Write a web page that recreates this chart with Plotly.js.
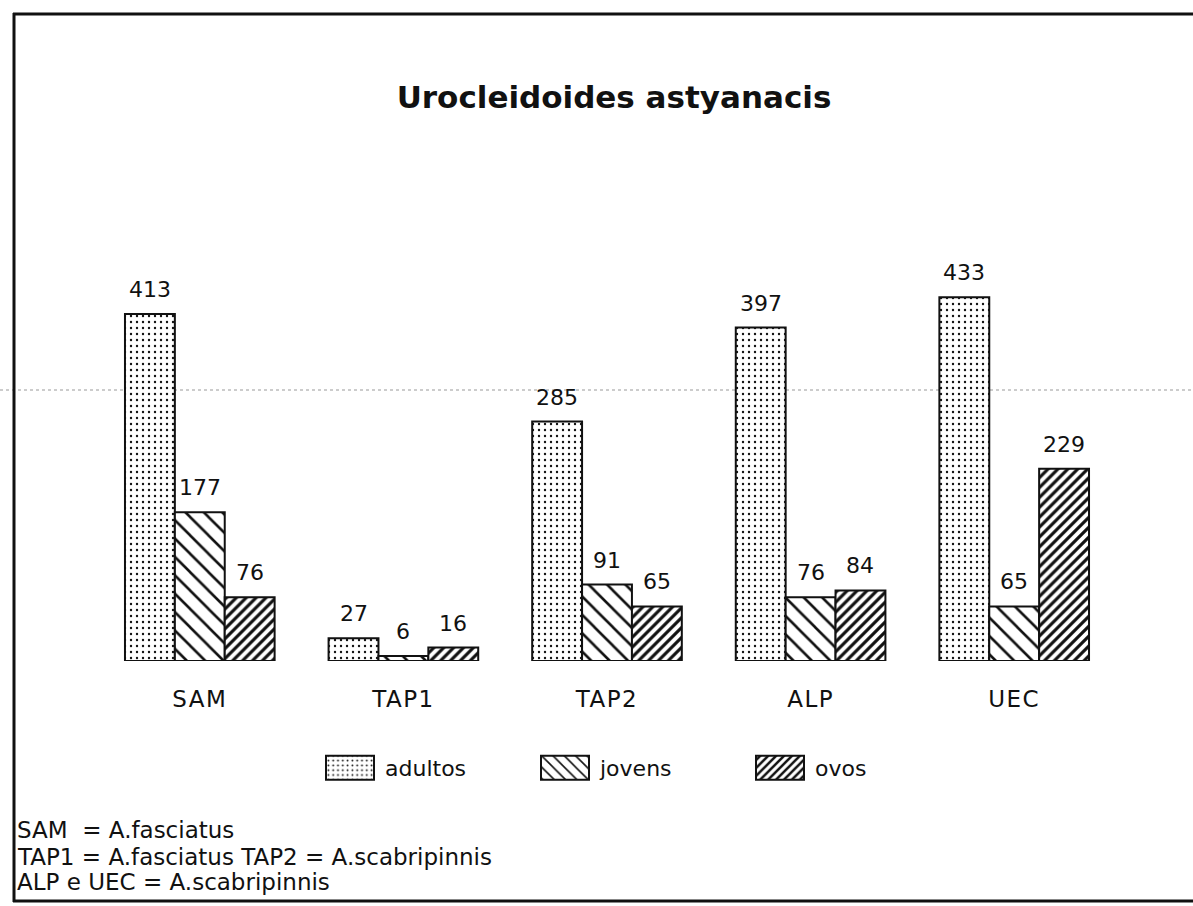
<!DOCTYPE html>
<html>
<head>
<meta charset="utf-8">
<script src="https://cdn.plot.ly/plotly-3.0.1.min.js"></script>
<style>
html,body{margin:0;padding:0;background:#fff;}
#chart{width:1193px;height:906px;}
#chart .xtick text{letter-spacing:1.5px;}
</style>
</head>
<body>
<div id="chart"></div>
<script>
// ---- data ----
const categories = ["SAM", "TAP1", "TAP2", "ALP", "UEC"];
const adultos = [413, 27, 285, 397, 433];
const jovens  = [177, 6, 91, 76, 65];
const ovos    = [76, 16, 65, 84, 229];
const seriesNames = ["adultos", "jovens", "ovos"];
const titleText = "Urocleidoides astyanacis";
const footnoteLines = [
  "SAM  = A.fasciatus",
  "TAP1 = A.fasciatus TAP2 = A.scabripinnis",
  "ALP e UEC = A.scabripinnis"
];

const W = 1193, H = 906;
const px = v => v / W;          // pixel x -> paper
const py = v => 1 - v / H;      // pixel y -> paper

const FONT = "DejaVu Sans, Liberation Sans, Arial, sans-serif";
const BARGAP = 0.265;
const seriesValues = [adultos, jovens, ovos];
const patterns = [
  {shape: ".", size: 6, solidity: 0.12},
  {shape: "\\", size: 13, solidity: 0.2},
  {shape: "/", size: 7, solidity: 0.45}
];

const data = seriesNames.map((name, i) => ({
  type: "bar",
  name: name,
  x: categories,
  y: seriesValues[i],
  marker: {
    color: "#fff",
    line: {color: "#111", width: 2},
    pattern: Object.assign({fgcolor: "#111", bgcolor: "#fff", fillmode: "replace"}, patterns[i])
  },
  hoverinfo: "x+y+name"
}));

// value labels placed through the axis scales (category index + group offset)
const nS = seriesNames.length;
const barW = (1 - BARGAP) / nS;
const labelAnns = [];
seriesValues.forEach((vals, s) => {
  vals.forEach((v, c) => {
    labelAnns.push({
      xref: "x", yref: "y",
      x: c + (s - (nS - 1) / 2) * barW,
      y: v,
      yanchor: "bottom", xanchor: "center",
      yshift: 10,
      showarrow: false,
      text: String(v),
      font: {family: FONT, size: 22, color: "#111"}
    });
  });
});

const footY = [830, 857, 882];
const footAnns = footnoteLines.map((t, i) => ({
  xref: "paper", yref: "paper",
  x: px(15), xanchor: "left",
  y: py(footY[i]), yanchor: "middle",
  align: "left",
  showarrow: false,
  text: t,
  font: {family: FONT, size: 23, color: "#111"}
}));

const layout = {
  width: W, height: H,
  margin: {l: 0, r: 0, t: 0, b: 0},
  paper_bgcolor: "#fff",
  plot_bgcolor: "rgba(0,0,0,0)",
  barmode: "group",
  bargap: BARGAP,
  bargroupgap: 0,
  font: {family: FONT, color: "#111"},
  title: {
    text: "<b>" + titleText + "</b>",
    font: {family: FONT, size: 31, color: "#111"},
    x: px(614), xanchor: "center",
    y: py(97), yanchor: "middle"
  },
  xaxis: {
    domain: [px(98), px(1116)],
    range: [-0.5, 4.5],
    type: "category",
    showgrid: false, zeroline: false, showline: false,
    ticks: "",
    ticklabelstandoff: 22,
    tickfont: {family: FONT, size: 23, color: "#111"},
    fixedrange: true
  },
  yaxis: {
    domain: [py(661), py(241)],
    range: [0, 500],
    visible: false,
    showgrid: false, zeroline: false,
    fixedrange: true
  },
  showlegend: true,
  legend: {
    orientation: "h",
    x: px(315), xanchor: "left",
    y: py(768), yanchor: "middle",
    itemwidth: 60,
    entrywidth: 140,
    font: {family: FONT, size: 22, color: "#111"},
    bgcolor: "rgba(0,0,0,0)",
    itemclick: false, itemdoubleclick: false
  },
  annotations: labelAnns.concat(footAnns),
  shapes: [
    // frame (left, top, bottom)
    {type: "line", xref: "paper", yref: "paper", x0: px(14), x1: px(14), y0: py(13), y1: py(902), line: {color: "#111", width: 3}},
    {type: "line", xref: "paper", yref: "paper", x0: px(13), x1: px(1193), y0: py(14), y1: py(14), line: {color: "#111", width: 3}},
    {type: "line", xref: "paper", yref: "paper", x0: px(13), x1: px(1193), y0: py(901), y1: py(901), line: {color: "#111", width: 3}},
    // faint dotted scan line
    {type: "line", xref: "paper", yref: "paper", x0: 0, x1: 1, y0: py(390), y1: py(390), line: {color: "#999", width: 1, dash: "dot"}, layer: "below"}
  ]
};

function enlargeSwatches(gd) {
  gd.querySelectorAll("g.legendpoints path").forEach(p => {
    p.setAttribute("d", "M24,12H-24V-12H24Z");
    p.style.strokeWidth = "2px";
  });
}

Plotly.newPlot("chart", data, layout, {displayModeBar: false, staticPlot: true}).then(gd => {
  enlargeSwatches(gd);
  setTimeout(() => enlargeSwatches(gd), 0);
});
</script>
</body>
</html>
